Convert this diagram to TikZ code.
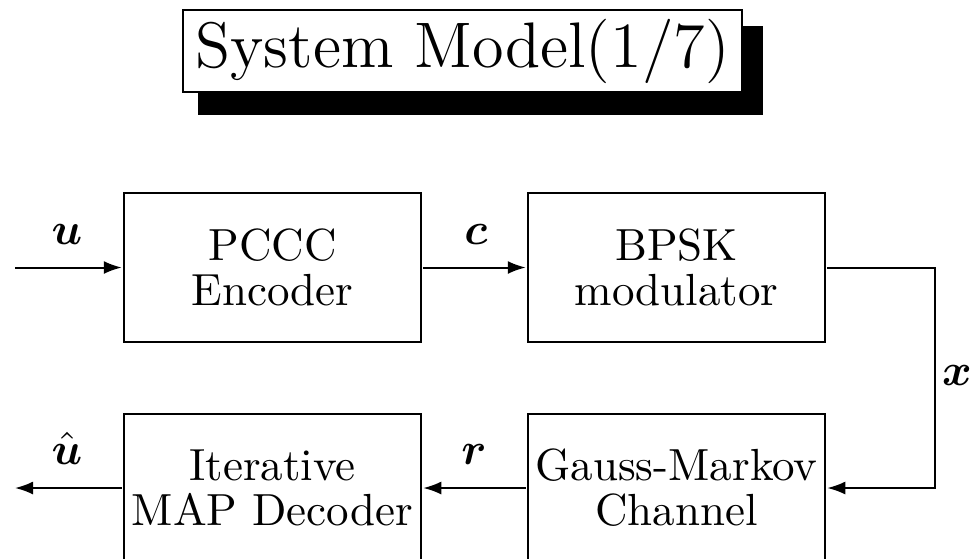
\RequirePackage{fix-cm}
\documentclass[tikz,border=0pt]{standalone}
\usepackage{amsmath}
\usetikzlibrary{arrows.meta,backgrounds,calc}
\tikzset{
  blk/.style={draw, line width=1pt, scale=2.25, minimum width=66pt, minimum height=33.1pt, align=center, inner sep=0pt, font=\fontsize{10}{10}\selectfont},
  arr/.style={line width=1pt, -{Latex[length=9pt,width=6.5pt]}},
  lbl/.style={scale=2.25, font=\fontsize{10}{10}\selectfont, inner sep=0pt, anchor=base},
  ttl/.style={draw, line width=0.7pt, fill=white, scale=2.25, minimum width=124.2pt, minimum height=18.2pt, inner sep=0pt, font=\fontsize{14.3}{17}\selectfont}
}
\begin{document}
\begin{tikzpicture}[x=0.5pt,y=-0.5pt]
\useasboundingbox (0,0) rectangle (974,558);
\clip (0,0) rectangle (974,558);
\node[ttl] (title) at (462.5,51) {System Model(1/7)};
\begin{scope}[on background layer]
\fill[black] ($(title.south west)+(17,21)$) rectangle ($(title.north east)+(19,18)$);
\end{scope}
\node[blk] (enc) at (272.5,267.5) {PCCC\\Encoder};
\node[blk] (mod) at (676.5,267.5) {BPSK\\modulator};
\node[blk] (dec) at (272.5,488) {Iterative\\MAP Decoder};
\node[blk] (ch) at (676.5,488) {Gauss-Markov\\Channel};
\coordinate (in) at (15,267.5);
\coordinate (out) at (15,488);
\coordinate (turn) at (935,267.5);
\draw[arr] (in) -- (enc.west);
\draw[arr] (enc.east) -- (mod.west);
\draw[arr] (mod.east) -- (turn) |- (ch.east);
\draw[arr] (ch.west) -- (dec.east);
\draw[arr] (dec.west) -- (out);
\node[lbl] (lu) at (67,244) {$\boldsymbol{u}$};
\node[lbl] (lc) at (476,244) {$\boldsymbol{c}$};
\node[lbl] (lx) at (957,385) {$\boldsymbol{x}$};
\node[lbl] (lr) at (474,464) {$\boldsymbol{r}$};
\node[lbl] (luh) at (67,464) {$\hat{\boldsymbol{u}}$};
\end{tikzpicture}
\end{document}
